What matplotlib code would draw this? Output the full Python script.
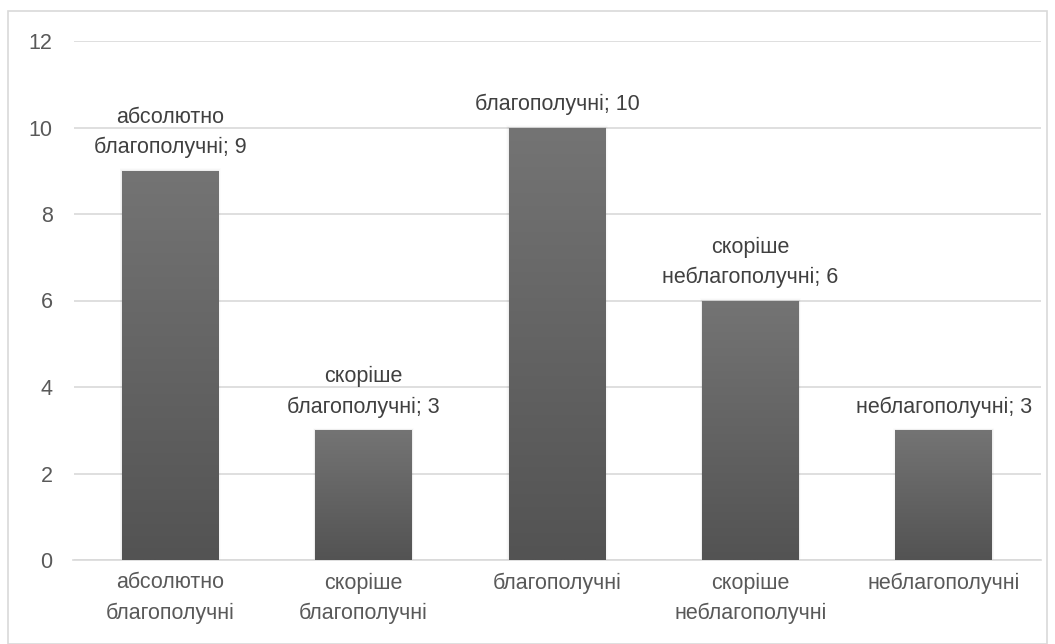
import matplotlib
matplotlib.use("Agg")
import matplotlib.pyplot as plt
import numpy as np
from matplotlib.patches import Rectangle

categories = ["абсолютно\nблагополучні", "скоріше\nблагополучні", "благополучні",
              "скоріше\nнеблагополучні", "неблагополучні"]
values = [9, 3, 10, 6, 3]
data_labels = ["абсолютно\nблагополучні; 9", "скоріше\nблагополучні; 3", "благополучні; 10",
               "скоріше\nнеблагополучні; 6", "неблагополучні; 3"]
yticks = [0, 2, 4, 6, 8, 10, 12]

plt.rcParams['font.family'] = ['Liberation Sans', 'DejaVu Sans']
txt = '#595959'
fs = 15.5
ls = 1.55

W, H = 1055, 644
fig = plt.figure(figsize=(W / 100, H / 100), dpi=100)
ax = fig.add_axes([73.5 / W, 1 - 560 / H, 967 / W, 519 / H])

x = np.arange(len(categories))
bw = 0.5
bars = ax.bar(x, values, width=bw, color='none', zorder=3)

grad = np.linspace(0, 1, 256).reshape(-1, 1)
cmap = matplotlib.colors.LinearSegmentedColormap.from_list('g', ['#535353', '#747474'])
for b in bars:
    x0, y0 = b.get_x(), b.get_y()
    w, h = b.get_width(), b.get_height()
    # soft shadow
    for k, a in enumerate([0.035, 0.02, 0.01]):
        sh = Rectangle((x0 - 0.004 * (k + 1), y0), w + 0.008 * (k + 1), h + 0.02 * (k + 1),
                       facecolor='black', alpha=a, edgecolor='none', zorder=2)
        ax.add_patch(sh)
    im = ax.imshow(grad, extent=[x0, x0 + w, y0, y0 + h], origin='lower', cmap=cmap,
                   aspect='auto', zorder=3)
    rect = Rectangle((x0, y0), w, h, transform=ax.transData, facecolor='none', edgecolor='none')
    ax.add_patch(rect)
    im.set_clip_path(rect)

for xi, v, lab in zip(x, values, data_labels):
    ax.annotate(lab, (xi, v), xytext=(0, 9), textcoords='offset points', ha='center',
                va='bottom', fontsize=fs, color='#404040', linespacing=ls)

ax.set_xlim(-0.5, len(categories) - 0.5)
ax.set_ylim(0, 12)
ax.set_yticks(yticks)
ax.set_yticklabels([str(t) for t in yticks], fontsize=fs, color=txt)
ax.set_xticks(x)
ax.set_xticklabels(categories, fontsize=fs, color=txt, linespacing=ls)
ax.tick_params(axis='both', length=0)
ax.tick_params(axis='y', pad=15)
ax.tick_params(axis='x', pad=9)
ax.grid(axis='y', color='#d9d9d9', linewidth=1.2, zorder=0)
ax.set_axisbelow(True)
for s in ['top', 'right', 'left']:
    ax.spines[s].set_visible(False)
ax.spines['bottom'].set_color('#d9d9d9')
ax.spines['bottom'].set_linewidth(1.2)

fig.patches.append(Rectangle((8 / W, 0.5 / H), (W - 8.5) / W - 8 / W, (H - 11) / H - 0.5 / H,
                             transform=fig.transFigure, facecolor='none', edgecolor='#d9d9d9',
                             linewidth=1.2))

fig.savefig('out.png', dpi=100)
